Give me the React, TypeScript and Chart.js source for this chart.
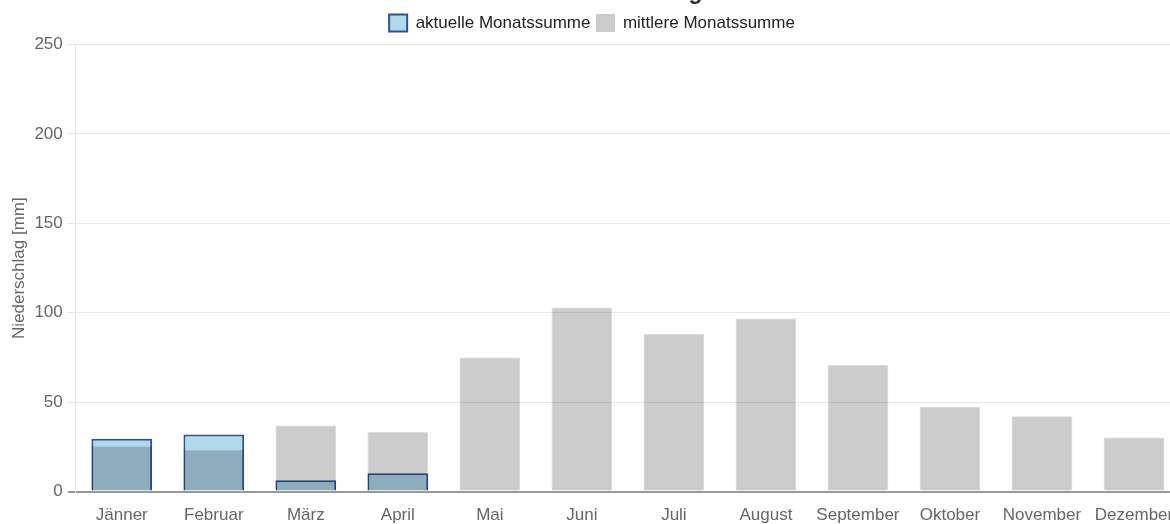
import React, { useEffect, useRef } from "react";
import { Chart, registerables } from "chart.js";

Chart.register(...registerables);

const months = ["Jänner", "Februar", "März", "April", "Mai", "Juni", "Juli", "August", "September", "Oktober", "November", "Dezember"];
const currentSums = [29.5, 32, 6.3, 10.3, null, null, null, null, null, null, null, null];
const meanSums = [25.4, 23.4, 37, 33.5, 75, 103, 88.2, 96.8, 70.8, 47.3, 42.2, 30.3];
const yTicks = [0, 50, 100, 150, 200, 250];

const legendSpacer = {
  id: "legendSpacer",
  beforeInit(chart: any) {
    if (!chart.legend) return;
    const origFit = chart.legend.fit;
    chart.legend.fit = function fit() {
      origFit.bind(chart.legend)();
      this.height += 3;
    };
  },
};

export default function App() {
  const ref = useRef<HTMLCanvasElement | null>(null);
  useEffect(() => {
    document.body.style.overflow = "hidden";
    const font = "'Liberation Sans', Arial, sans-serif";
    const chart = new Chart(ref.current!, {
      type: "bar",
      data: {
        labels: months,
        datasets: [
          {
            label: "aktuelle Monatssumme",
            data: currentSums,
            backgroundColor: "rgb(178,216,236)",
            borderColor: "rgb(44,82,150)",
            borderWidth: 2,
            order: 2,
          },
          {
            label: "mittlere Monatssumme",
            data: meanSums,
            backgroundColor: "rgba(0,0,0,0.2)",
            borderColor: "rgba(0,0,0,0.14)",
            borderWidth: 1,
            order: 1,
          },
        ],
      },
      plugins: [legendSpacer],
      options: {
        animation: false,
        responsive: true,
        maintainAspectRatio: false,
        datasets: { bar: { grouped: false, barPercentage: 0.66, categoryPercentage: 1 } },
        layout: { padding: { left: 4, right: 0, top: 0, bottom: 0 } },
        plugins: {
          title: {
            display: true,
            text: "            Niederschlag",
            color: "#333",
            font: { family: font, size: 23, weight: "bold" },
            padding: { top: 0, bottom: 2 },
          },
          legend: {
            display: true,
            labels: {
              color: "#222",
              font: { family: font, size: 17 },
              boxWidth: 18,
              boxHeight: 17,
              padding: 6,
              sort: (a: any, b: any) => a.datasetIndex - b.datasetIndex,
            },
          },
          tooltip: { enabled: false },
        },
        scales: {
          x: {
            grid: { display: false },
            border: { display: false },
            ticks: { color: "#666", font: { family: font, size: 17 }, maxRotation: 0, autoSkip: false, padding: 6 },
          },
          y: {
            min: 0,
            max: 250,
            afterBuildTicks: (axis: any) => {
              axis.ticks = yTicks.map((v) => ({ value: v }));
            },
            grid: {
              color: (ctx: any) => (ctx.tick && ctx.tick.value === 0 ? "#999" : "#e6e6e6"),
              lineWidth: (ctx: any) => (ctx.tick && ctx.tick.value === 0 ? 2 : 1),
              tickLength: 8,
            },
            border: { display: true, color: "#e6e6e6" },
            ticks: { color: "#666", font: { family: font, size: 17 }, padding: 5 },
            title: {
              display: true,
              text: "Niederschlag [mm]",
              color: "#666",
              font: { family: font, size: 17 },
              padding: { top: 5, bottom: 0 },
            },
          },
        },
      },
    });
    return () => chart.destroy();
  }, []);
  return (
    <div style={{ position: "absolute", left: 0, top: -21, width: 1180, height: 553 }}>
      <canvas ref={ref} />
    </div>
  );
}
